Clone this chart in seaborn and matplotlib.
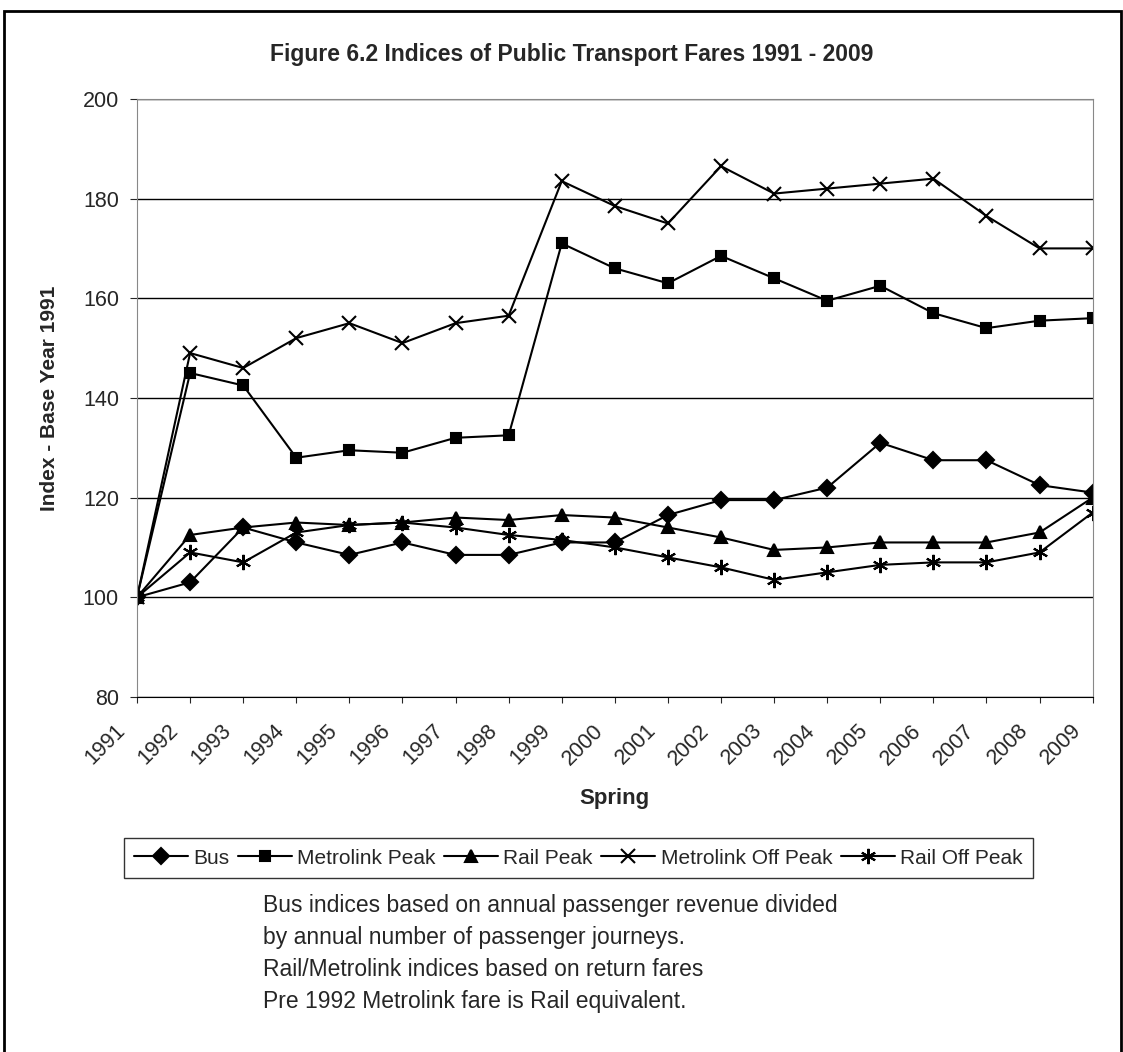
import numpy as np
import pandas as pd
import matplotlib
matplotlib.use("Agg")
import matplotlib.pyplot as plt
import matplotlib.transforms as mtransforms
import seaborn as sns
from matplotlib.patches import Rectangle

# Data
years = list(range(1991, 2010))
bus = [100, 103, 114, 111, 108.5, 111, 108.5, 108.5, 111, 111, 116.5, 119.5, 119.5, 122, 131, 127.5, 127.5, 122.5, 121]
metro_peak = [100, 145, 142.5, 128, 129.5, 129, 132, 132.5, 171, 166, 163, 168.5, 164, 159.5, 162.5, 157, 154, 155.5, 156]
rail_peak = [100, 112.5, 114, 115, 114.5, 115, 116, 115.5, 116.5, 116, 114, 112, 109.5, 110, 111, 111, 111, 113, 120]
metro_off = [100, 149, 146, 152, 155, 151, 155, 156.5, 183.5, 178.5, 175, 186.5, 181, 182, 183, 184, 176.5, 170, 170]
rail_off = [100, 109, 107, 113, 114.5, 115, 114, 112.5, 111.5, 110, 108, 106, 103.5, 105, 106.5, 107, 107, 109, 117]

series = ["Bus", "Metrolink Peak", "Rail Peak", "Metrolink Off Peak", "Rail Off Peak"]
values = [bus, metro_peak, rail_peak, metro_off, rail_off]

df = pd.DataFrame({
    "Year": years * len(series),
    "Index": sum(values, []),
    "Series": [s for s in series for _ in years],
})

sns.set_style("white")
plt.rcParams['font.family'] = ['Liberation Sans', 'DejaVu Sans']

fig = plt.figure(figsize=(11.23, 10.52), dpi=100)
ax = fig.add_axes([0.122, 0.3375, 0.851, 0.5685])

markers = {"Bus": "D", "Metrolink Peak": "s", "Rail Peak": "^",
           "Metrolink Off Peak": "x", "Rail Off Peak": (6, 2, 0)}
sizes = {"Bus": 8.5, "Metrolink Peak": 7.5, "Rail Peak": 9, "Metrolink Off Peak": 10, "Rail Off Peak": 11}

for s in series:
    sub = df[df["Series"] == s]
    sns.lineplot(data=sub, x="Year", y="Index", ax=ax, color="black", lw=1.5,
                 marker=markers[s], markersize=sizes[s], markeredgewidth=1.5,
                 markeredgecolor="black", markerfacecolor="black", label=s)

ax.set_xlim(1991, 2009)
ax.set_ylim(80, 200)
ax.set_yticks(range(80, 201, 20))
ax.set_xticks(years)
ax.set_xticklabels([str(y) for y in years], rotation=45, ha="right", va="center",
                   rotation_mode="anchor", fontsize=15.5)
ax.tick_params(axis="y", labelsize=15.5, length=5, direction="out", left=True, pad=8)
ax.tick_params(axis="x", length=4, direction="out", bottom=True, pad=18)
shift = mtransforms.ScaledTranslation(-0.15, 0, fig.dpi_scale_trans)
for lab in ax.get_xticklabels():
    lab.set_transform(lab.get_transform() + shift)
ax.yaxis.grid(True, color="black", lw=1)
ax.set_axisbelow(True)
for side in ["left", "top", "right"]:
    ax.spines[side].set_color("#888888")
ax.spines["bottom"].set_color("black")

ax.set_xlabel("Spring", fontsize=16, fontweight="bold")
ax.xaxis.set_label_coords(0.5, -0.152)
ax.set_ylabel("Index - Base Year 1991", fontsize=15, fontweight="bold")
ax.yaxis.set_label_coords(-0.0915, 0.5)
ax.yaxis.label.set_va("center")

fig.text(0.509, 0.948, "Figure 6.2 Indices of Public Transport Fares 1991 - 2009",
         ha="center", va="center", fontsize=16.5, fontweight="bold")

handles, labels = ax.get_legend_handles_labels()
if ax.legend_:
    ax.legend_.remove()
fig.legend(handles, labels, loc="center", bbox_to_anchor=(0.515, 0.1844), ncol=5,
           fontsize=15, frameon=True, fancybox=False, edgecolor="black",
           handlelength=2.6, handletextpad=0.25, columnspacing=0.4, borderpad=0.5)

note = ("Bus indices based on annual passenger revenue divided\n"
        "by annual number of passenger journeys.\n"
        "Rail/Metrolink indices based on return fares\n"
        "Pre 1992 Metrolink fare is Rail equivalent.")
fig.text(0.234, 0.150, note, ha="left", va="top", fontsize=16.5, linespacing=1.5)

fig.patches.append(Rectangle((0.004, -0.01), 0.994, 1.0, transform=fig.transFigure,
                             fill=False, edgecolor="black", lw=2))

fig.savefig("out.png", dpi=100)
